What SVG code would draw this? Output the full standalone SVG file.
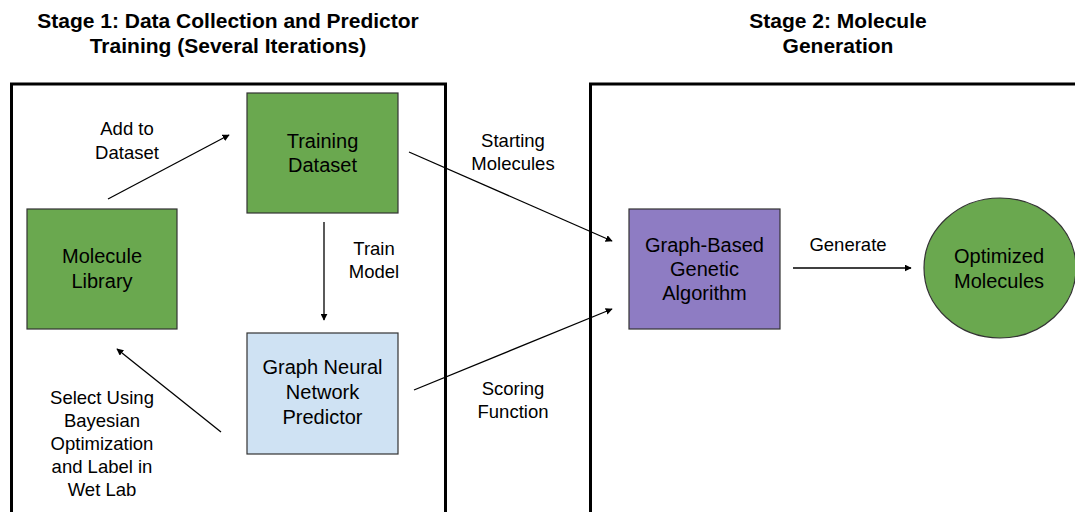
<svg xmlns="http://www.w3.org/2000/svg" width="1075" height="512" viewBox="0 0 1075 512">
<style>
text{font-family:"Liberation Sans",Arial,sans-serif;fill:#000;text-anchor:middle}
.title{font-size:21px;font-weight:bold}
.node{font-size:20px}
.lbl{font-size:18.5px}
.frame{fill:none;stroke:#000;stroke-width:3}
.box{stroke:#333;stroke-width:1.2}
.edge{stroke:#000;stroke-width:1.3;fill:none;marker-end:url(#ah)}
</style>
<defs>
<marker id="ah" viewBox="0 0 10 10" refX="9" refY="5" markerWidth="7" markerHeight="7" markerUnits="userSpaceOnUse" orient="auto">
<path d="M0,0 L10,5 L0,10 z" fill="#000"/>
</marker>
</defs>
<rect width="1075" height="512" fill="#fff"/>
<g id="stage1">
<rect class="frame" x="11.5" y="84" width="434" height="440"/>
<text class="title" x="228" y="28">Stage 1: Data Collection and Predictor</text>
<text class="title" x="228" y="53">Training (Several Iterations)</text>
</g>
<g id="stage2">
<rect class="frame" x="590.5" y="84" width="500" height="440"/>
<text class="title" x="838" y="28">Stage 2: Molecule</text>
<text class="title" x="838" y="53">Generation</text>
</g>
<g id="connectors">
<line class="edge" x1="108" y1="199" x2="229" y2="135"/>
<line class="edge" x1="324" y1="222" x2="324" y2="320"/>
<line class="edge" x1="221" y1="432" x2="117" y2="349"/>
<line class="edge" x1="409" y1="152" x2="612" y2="241"/>
<line class="edge" x1="414" y1="390" x2="612" y2="309"/>
<line class="edge" x1="793" y1="268" x2="911" y2="268"/>
<text class="lbl" x="127" y="135">Add to</text>
<text class="lbl" x="127" y="159">Dataset</text>
<text class="lbl" x="374" y="255">Train</text>
<text class="lbl" x="374" y="278">Model</text>
<text class="lbl" x="102" y="404">Select Using</text>
<text class="lbl" x="102" y="427">Bayesian</text>
<text class="lbl" x="102" y="450">Optimization</text>
<text class="lbl" x="102" y="473">and Label in</text>
<text class="lbl" x="102" y="496">Wet Lab</text>
<text class="lbl" x="513" y="147">Starting</text>
<text class="lbl" x="513" y="170">Molecules</text>
<text class="lbl" x="513" y="395">Scoring</text>
<text class="lbl" x="513" y="418">Function</text>
<text class="lbl" x="848" y="251">Generate</text>
</g>
<g id="training-dataset">
<rect class="box" x="247" y="93" width="151" height="120" fill="#6aa84f"/>
<text class="node" x="322.5" y="148">Training</text>
<text class="node" x="322.5" y="172">Dataset</text>
</g>
<g id="molecule-library">
<rect class="box" x="27" y="209" width="150" height="120" fill="#6aa84f"/>
<text class="node" x="102" y="263">Molecule</text>
<text class="node" x="102" y="288">Library</text>
</g>
<g id="gnn-predictor">
<rect class="box" x="247" y="333" width="151" height="121" fill="#cfe2f3"/>
<text class="node" x="322.5" y="374">Graph Neural</text>
<text class="node" x="322.5" y="399">Network</text>
<text class="node" x="322.5" y="424">Predictor</text>
</g>
<g id="genetic-algorithm">
<rect class="box" x="629" y="209" width="151" height="120" fill="#8e7cc3"/>
<text class="node" x="704.5" y="252">Graph-Based</text>
<text class="node" x="704.5" y="276">Genetic</text>
<text class="node" x="704.5" y="300">Algorithm</text>
</g>
<g id="optimized-molecules">
<ellipse class="box" cx="1000" cy="268" rx="76" ry="70" fill="#6aa84f"/>
<text class="node" x="999" y="263">Optimized</text>
<text class="node" x="999" y="288">Molecules</text>
</g>
</svg>
